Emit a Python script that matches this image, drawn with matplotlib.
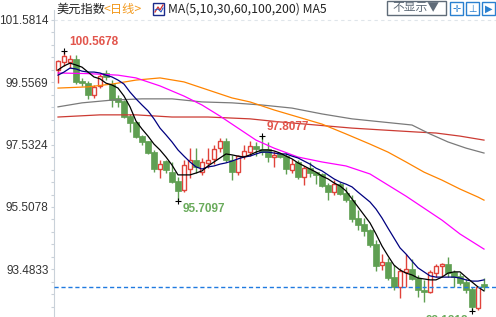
import matplotlib.pyplot as plt
from matplotlib.patches import Rectangle
from matplotlib.lines import Line2D
import numpy as np

# daily candles, US dollar index
opens = [99.96, 100.22, 100.22, 100.31, 99.57, 99.53, 99.15, 99.44, 99.83, 99.47,
         99.02, 98.92, 98.43, 98.24, 97.78, 97.62, 97.26, 96.74, 96.97, 96.64,
         96.32, 96.06, 96.74, 97.03, 96.64, 96.94, 97.07, 97.42, 97.62, 97.03,
         96.64, 97.16, 97.29, 97.46, 97.36, 97.36, 97.13, 97.20, 97.13, 96.71,
         96.94, 96.48, 96.74, 96.61, 96.55, 96.19, 95.99, 96.25, 95.93, 95.73,
         95.12, 94.92, 94.73, 94.27, 93.62, 93.69, 93.20, 92.91, 93.40, 93.46,
         93.17, 92.78, 92.75, 93.36, 93.59, 93.62, 93.36, 93.23, 93.04, 92.81,
         92.23, 92.97]
highs = [100.28, 100.5678, 100.44, 100.44, 99.70, 99.60, 99.47, 99.86, 99.96, 99.63,
         99.15, 98.98, 98.53, 98.30, 97.85, 97.65, 97.36, 97.03, 97.03, 96.97,
         96.48, 97.03, 97.42, 97.42, 97.10, 97.42, 97.52, 97.75, 97.75, 97.20,
         97.20, 97.52, 97.65, 97.62, 97.8077, 97.62, 97.33, 97.26, 97.26, 97.07,
         97.03, 96.84, 96.97, 96.64, 96.61, 96.29, 96.38, 96.32, 96.16, 95.90,
         95.41, 95.15, 94.79, 94.44, 93.98, 93.85, 93.62, 93.53, 93.98, 93.82,
         93.30, 93.14, 93.46, 93.66, 93.69, 93.88, 93.46, 93.36, 93.17, 92.91,
         92.91, 93.20]
lows = [99.53, 100.09, 100.02, 99.50, 99.44, 99.02, 99.05, 99.37, 99.63, 98.76,
        98.76, 98.40, 97.94, 97.75, 97.52, 97.24, 96.64, 96.45, 96.61, 96.29,
        95.7097, 95.99, 96.45, 96.61, 96.55, 96.77, 96.90, 97.29, 96.97, 96.38,
        96.55, 97.07, 97.16, 97.16, 97.20, 96.97, 96.81, 97.10, 96.58, 96.61,
        96.42, 96.22, 96.48, 96.25, 96.16, 95.73, 95.90, 95.90, 95.67, 95.02,
        94.76, 94.57, 94.21, 93.43, 93.46, 93.14, 92.81, 92.55, 92.91, 93.14,
        92.58, 92.42, 92.71, 93.23, 93.27, 93.23, 92.91, 92.97, 92.71, 92.12,
        92.16, 92.81]
closes = [100.22, 100.38, 100.31, 99.57, 99.52, 99.15, 99.37, 99.73, 99.73, 98.98,
          98.92, 98.43, 98.24, 97.78, 97.62, 97.26, 96.74, 96.90, 96.71, 96.32,
          96.03, 96.84, 97.03, 96.81, 96.94, 97.03, 97.36, 97.62, 97.03, 96.64,
          97.13, 97.29, 97.46, 97.39, 97.29, 97.13, 97.16, 97.13, 96.74, 96.90,
          96.48, 96.77, 96.61, 96.55, 96.19, 95.99, 96.25, 95.93, 95.73, 95.12,
          94.92, 94.73, 94.27, 93.59, 93.69, 93.20, 92.91, 93.40, 93.46, 93.17,
          92.81, 92.75, 93.36, 93.56, 93.62, 93.36, 93.23, 93.04, 92.81, 92.26,
          92.88, 92.90]

# moving averages
ma5 = [99.96, 100.09, 100.18, 100.12, 100.05, 99.89, 99.73, 99.67, 99.53, 99.47,
       99.37, 99.11, 98.76, 98.30, 98.04, 97.81, 97.55, 97.36, 97.13, 96.87,
       96.55, 96.55, 96.55, 96.61, 96.68, 96.84, 96.97, 97.10, 97.23, 97.20,
       97.16, 97.13, 97.20, 97.29, 97.36, 97.36, 97.33, 97.26, 97.16, 97.07,
       96.94, 96.84, 96.74, 96.64, 96.51, 96.42, 96.29, 96.19, 96.03, 95.77,
       95.51, 95.25, 94.99, 94.63, 94.24, 93.92, 93.62, 93.46, 93.36, 93.30,
       93.20, 93.17, 93.14, 93.14, 93.23, 93.36, 93.40, 93.40, 93.23, 93.07,
       92.91, 92.78]
ma10 = [99.79, 99.89, 100.02, 99.99, 99.92, 99.89, 99.89, 99.86, 99.79, 99.73,
        99.63, 99.50, 99.24, 99.02, 98.82, 98.63, 98.37, 98.07, 97.85, 97.62,
        97.36, 97.16, 96.97, 96.81, 96.74, 96.81, 96.84, 96.90, 96.94, 97.00,
        97.07, 97.13, 97.16, 97.23, 97.29, 97.29, 97.26, 97.23, 97.23, 97.16,
        97.10, 97.00, 96.90, 96.77, 96.68, 96.55, 96.42, 96.32, 96.25, 96.16,
        95.99, 95.83, 95.67, 95.44, 95.15, 94.82, 94.50, 94.18, 93.98, 93.75,
        93.53, 93.40, 93.27, 93.23, 93.23, 93.23, 93.23, 93.20, 93.14, 93.10,
        93.10, 93.14]
ma30_at = [0, 5, 10, 13, 17, 21, 24, 27, 30, 33, 36, 40, 44, 48, 52, 55, 58, 61, 64, 67, 71]
ma30 = [99.86, 99.84, 99.79, 99.70, 99.44, 99.11, 98.82, 98.46, 98.07, 97.68, 97.42,
        97.13, 96.97, 96.84, 96.58, 96.22, 95.86, 95.47, 95.08, 94.63, 94.14]
ma60_at = [0, 5, 9, 13, 17, 21, 25, 29, 32, 36, 40, 44, 48, 52, 55, 58, 61, 64, 67, 70, 71]
ma60 = [99.37, 99.41, 99.50, 99.63, 99.70, 99.57, 99.31, 99.05, 98.92, 98.66, 98.43,
        98.20, 97.88, 97.55, 97.29, 96.97, 96.64, 96.38, 96.09, 95.83, 95.73]
ma100_at = [0, 4, 9, 14, 19, 24, 29, 34, 39, 44, 49, 54, 59, 62, 65, 68, 71]
ma100 = [98.76, 98.89, 98.98, 99.02, 99.02, 98.92, 98.89, 98.82, 98.72, 98.53, 98.37,
         98.27, 98.17, 97.88, 97.62, 97.42, 97.26]
ma200_at = [0, 7, 13, 19, 25, 32, 37, 43, 49, 54, 60, 63, 67, 71]
ma200 = [98.43, 98.50, 98.50, 98.43, 98.43, 98.37, 98.27, 98.17, 98.07, 98.01, 97.94,
         97.91, 97.81, 97.68]

ytick_vals = [101.5814, 99.5569, 97.5324, 95.5078, 93.4833]
marks = [(1, 100.5678, '100.5678', 'up'), (34, 97.8077, '97.8077', 'up'),
         (20, 95.7097, '95.7097', 'down'), (69, 92.12, '92.1218', 'down')]

W, H = 496, 317
up_c = '#e0433b'
dn_c = '#5f9f52'

fig = plt.figure(figsize=(W / 100, H / 100), dpi=100)
ax = fig.add_axes([54 / W, 0, (W - 54) / W, 1])
ax.set_xlim(-0.667, 73)
ax.set_ylim(91.934, 102.231)

idx = np.arange(len(closes))
o = np.array(opens); c = np.array(closes)
hi = np.array(highs); lo = np.array(lows)
up = c >= o
top = np.maximum(o, c); bot = np.minimum(o, c)

# wicks
ax.vlines(idx[up], lo[up], hi[up], color=up_c, lw=1, zorder=2)
ax.vlines(idx[~up], lo[~up], hi[~up], color=dn_c, lw=1, zorder=2)
# bodies
ax.bar(idx[up], (top - bot)[up] + 0.02, bottom=bot[up], width=0.68,
       facecolor='white', edgecolor=up_c, linewidth=1, zorder=3)
ax.bar(idx[~up], (top - bot)[~up] + 0.02, bottom=bot[~up], width=0.85,
       facecolor=dn_c, edgecolor=dn_c, linewidth=0.5, zorder=3)

# moving averages
lw = 0.9
ax.plot(ma200_at, ma200, color='#cc3b33', lw=lw, zorder=4)
ax.plot(ma100_at, ma100, color='#7a7a7a', lw=lw, zorder=4)
ax.plot(ma60_at, ma60, color='#ff8400', lw=lw, zorder=4)
ax.plot(ma30_at, ma30, color='#ff00ff', lw=lw, zorder=4)
ax.plot(idx, ma10, color='#000080', lw=lw, zorder=4)
ax.plot(idx, ma5, color='black', lw=lw, zorder=4)

# last price line
ax.axhline(closes[-1], color='#1f7ae0', lw=1, ls=(0, (3, 2)), zorder=5)
# top dashed separator
ax.axhline(ytick_vals[0], color='#dfe5ea', lw=0.8, ls=(0, (3, 3)), zorder=1)

# high / low markers
for i, v, txt, kind in marks:
    ax.plot(i, v, marker='+', color='black', ms=5, mew=0.8, zorder=6)
    col = '#e2554c' if kind == 'up' else '#6aab5c'
    if kind == 'up':
        ax.annotate(txt, (i, v), xytext=(5, 9), textcoords='offset pixels',
                    ha='left', va='center', color=col, fontsize=8.5,
                    fontweight='bold', family='Liberation Sans', zorder=7)
    elif i < 60:
        ax.annotate(txt, (i, v), xytext=(5, -8), textcoords='offset pixels',
                    ha='left', va='center', color=col, fontsize=8.5,
                    fontweight='bold', family='Liberation Sans', zorder=7)
    else:
        ax.annotate(txt, (i, v), xytext=(-4, -10), textcoords='offset pixels',
                    ha='right', va='center', color=col, fontsize=8.5,
                    fontweight='bold', family='Liberation Sans', zorder=7)

# axis styling
for s in ['top', 'right', 'bottom']:
    ax.spines[s].set_visible(False)
ax.spines['left'].set_color('#c9d1d9')
ax.spines['left'].set_bounds(91.934, 101.9)
ax.set_xticks([])
ax.set_yticks(ytick_vals)
ax.set_yticklabels(ytick_vals)
step = (ytick_vals[0] - ytick_vals[1]) / 5
minor = [ytick_vals[-1] - k * step for k in range(1, 4)]
for a, b in zip(ytick_vals[:-1], ytick_vals[1:]):
    minor += [b + k * step for k in range(1, 5)]
ax.set_yticks(minor, minor=True)
ax.tick_params(axis='y', which='both', length=2.5, width=0.8, color='#c9d1d9',
               pad=1.5, labelsize=8.5, labelcolor='#333333')
for lab in ax.get_yticklabels():
    lab.set_family('Liberation Sans')
ax.set_facecolor('white')

# header
def px(x, y):
    return x / W, 1 - y / H

fig.text(*px(56, 9), '美元指数', fontsize=8.8, family=['Noto Sans CJK SC', 'DejaVu Sans'],
         va='center', ha='left', color='#222222')
fig.text(*px(104, 9), '<日线>', fontsize=8.8, family=['Noto Sans CJK SC', 'DejaVu Sans'],
         va='center', ha='left', color='#f39a1e')
fig.text(*px(168, 9), 'MA(5,10,30,60,100,200) MA5', fontsize=8.8,
         family=['Noto Sans CJK SC', 'DejaVu Sans'], va='center', ha='left', color='#222222')

# small MA icon
fig.add_artist(Rectangle(px(153, 15), 11 / W, 12 / H, transform=fig.transFigure,
                         facecolor='white', edgecolor='#1a2a8a', lw=1))
fig.add_artist(Line2D([155 / W, 158 / W, 160 / W, 163 / W], [1 - 12 / H, 1 - 7 / H, 1 - 10 / H, 1 - 5 / H],
                      transform=fig.transFigure, color='#d43030', lw=0.9))
fig.add_artist(Line2D([155 / W, 158 / W, 161 / W, 163 / W], [1 - 10 / H, 1 - 9 / H, 1 - 12 / H, 1 - 8 / H],
                      transform=fig.transFigure, color='#2050c0', lw=0.7))

# dropdown button
fig.add_artist(Rectangle(px(387, 15), 59 / W, 14 / H, transform=fig.transFigure,
                         facecolor='white', edgecolor='#5f6b78', lw=1))
fig.text(*px(416, 8), '不显示▼', fontsize=8.5, family=['Noto Sans CJK SC', 'DejaVu Sans'],
         va='center', ha='center', color='#5f6b78')

# tool icons
for x0, g in [(450, '✛'), (466, '⊥'), (482, '▶')]:
    fig.add_artist(Rectangle(px(x0, 15), 13 / W, 13 / H, transform=fig.transFigure,
                             facecolor='white', edgecolor='#2a80d0', lw=1))
    fig.text(*px(x0 + 6.5, 8.5), g, fontsize=7, family='DejaVu Sans',
             va='center', ha='center', color='#2a80d0')

fig.savefig('out.png', dpi=100)
